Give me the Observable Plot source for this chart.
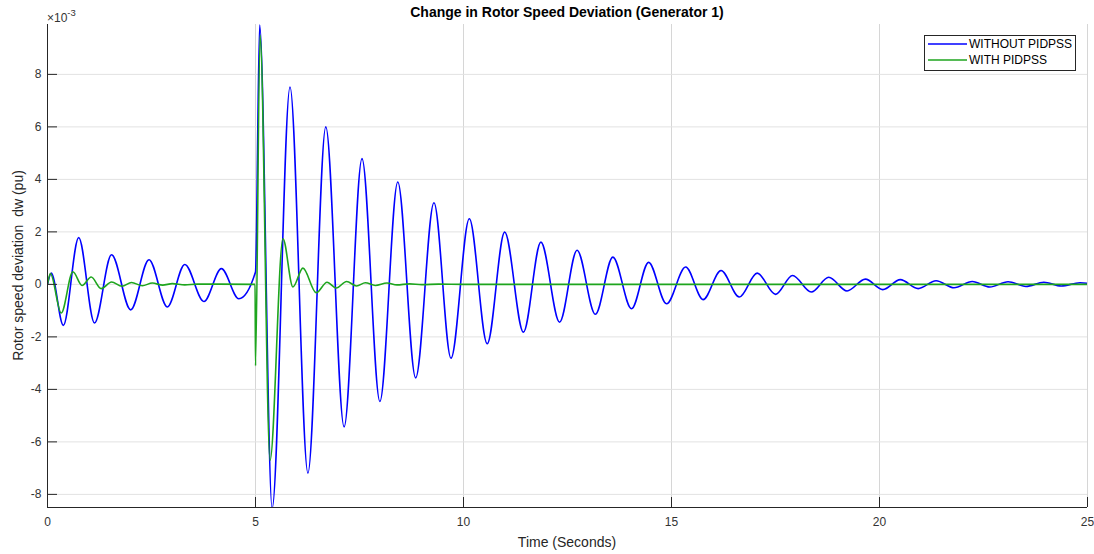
<!DOCTYPE html>
<html><head><meta charset="utf-8">
<script src="https://cdn.jsdelivr.net/npm/d3@7"></script>
<script src="https://cdn.jsdelivr.net/npm/@observablehq/plot@0.6"></script>
<style>body{margin:0;background:#fff} svg{display:block}</style>
</head><body><div id="chart"></div>
<script>
// Values (dw in units of 10^-3 pu)
const timeWithout = [0, 0.09, 0.38, 0.75, 1.13, 1.54, 2.0, 2.44, 2.88, 3.30, 3.76, 4.18, 4.60, 5.0, 5.10, 5.40, 5.83, 6.26, 6.69, 7.13, 7.56, 7.99, 8.42, 8.85, 9.29, 9.70, 10.14, 10.57, 10.99, 11.44, 11.86, 12.31, 12.73, 13.17, 13.59, 14.04, 14.45, 14.88, 15.34, 15.76, 16.19, 16.63, 17.06, 17.50, 17.91, 18.36, 18.78, 19.22, 19.66, 20.08, 20.50, 20.93, 21.36, 21.79, 22.23, 22.65, 23.09, 23.52, 23.95, 24.37, 24.82, 25.0];
const dwWithout = [0, 0.43, -1.56, 1.78, -1.47, 1.13, -0.97, 0.94, -0.86, 0.76, -0.65, 0.60, -0.55, 0.47, 9.88, -8.53, 7.52, -7.19, 6.0, -5.43, 4.79, -4.46, 3.90, -3.56, 3.11, -2.81, 2.50, -2.26, 1.99, -1.82, 1.61, -1.44, 1.30, -1.14, 1.04, -0.93, 0.84, -0.74, 0.66, -0.58, 0.53, -0.48, 0.43, -0.38, 0.34, -0.29, 0.27, -0.25, 0.20, -0.20, 0.18, -0.16, 0.14, -0.13, 0.11, -0.10, 0.10, -0.08, 0.08, -0.06, 0.06, 0.04];
const timeWith = [0, 0.07, 0.33, 0.61, 0.83, 1.05, 1.29, 1.54, 1.79, 2.02, 2.28, 2.52, 2.77, 3.0, 3.3, 3.6, 4.99, 5.0, 5.11, 5.35, 5.66, 5.90, 6.14, 6.46, 6.72, 6.94, 7.19, 7.43, 7.64, 7.88, 8.16, 8.4, 8.7, 9.0, 9.4, 10, 25];
const dwWith = [0, 0.41, -1.09, 0.48, -0.04, 0.28, -0.16, 0.09, -0.07, 0.07, -0.05, 0.05, -0.03, 0.03, -0.02, 0.01, 0, -3.1, 9.5, -6.7, 1.74, -0.10, 0.62, -0.32, 0.08, -0.14, 0.11, -0.06, 0.06, -0.04, 0.05, -0.02, 0.02, -0.01, 0.01, 0, 0];

const seriesNames = ["WITHOUT PIDPSS", "WITH PIDPSS"];
const seriesColors = ["#0000ff", "#1ea51e"];
const xTicks = [0, 5, 10, 15, 20, 25];
const yTicks = [-8, -6, -4, -2, 0, 2, 4, 6, 8];
const xDomain = [0, 25];
const yDomain = [-8.5, 9.9];
const titleText = "Change in Rotor Speed Deviation (Generator 1)";
const xLabel = "Time (Seconds)";
const yLabel = "Rotor speed deviation\u00a0 dw (pu)";

const rows = [
  ...timeWithout.map((t, i) => ({t, v: dwWithout[i], s: seriesNames[0]})),
  ...timeWith.map((t, i) => ({t, v: dwWith[i], s: seriesNames[1]}))
];

const font = "'Liberation Sans', Arial, Helvetica, sans-serif";
const W = 1094, H = 554, mL = 47, mR = 7, mT = 24, mB = 47;

const chart = Plot.plot({
  width: W, height: H, marginLeft: mL, marginRight: mR, marginTop: mT, marginBottom: mB,
  style: {fontFamily: font, fontSize: "12px", color: "#262626", background: "#fff", overflow: "visible"},
  x: {domain: xDomain},
  y: {domain: yDomain},
  color: {domain: seriesNames, range: seriesColors},
  marks: [
    Plot.gridX({ticks: xTicks, stroke: "#d6d6d6", strokeOpacity: 1}),
    Plot.gridY({ticks: yTicks, stroke: "#e2e2e2", strokeOpacity: 1}),
    Plot.line(rows, {x: "t", y: "v", z: "s", stroke: "s", strokeWidth: 1.6, curve: "monotone-x", clip: true}),
    Plot.axisX({ticks: xTicks, tickSize: 10, dy: -10, tickFormat: () => "", label: null, stroke: "#262626"}),
    Plot.axisX({ticks: xTicks, tickSize: 0, tickPadding: 10, tickFormat: d => String(d), label: null, fill: "#333"}),
    Plot.axisY({ticks: yTicks, tickSize: 10, dx: 10, tickFormat: () => "", label: null, stroke: "#262626"}),
    Plot.axisY({ticks: yTicks, tickSize: 0, tickPadding: 6, tickFormat: d => String(d), label: null, fill: "#333"}),
    Plot.ruleX([xDomain[0]], {stroke: "#262626"}),
    Plot.ruleY([yDomain[0]], {stroke: "#262626"})
  ]
});
document.getElementById("chart").appendChild(chart);

const svg = d3.select(chart);
const cx = mL + (W - mL - mR) / 2;
svg.append("text").attr("x", cx).attr("y", 17).attr("text-anchor", "middle")
  .attr("font-family", font).attr("font-size", 14).attr("font-weight", "bold").attr("fill", "#000").text(titleText);
svg.append("text").attr("x", cx).attr("y", 547).attr("text-anchor", "middle")
  .attr("font-family", font).attr("font-size", 14).attr("fill", "#262626").text(xLabel);
svg.append("text").attr("transform", `translate(23,${mT + (H - mT - mB) / 2}) rotate(-90)`).attr("text-anchor", "middle")
  .attr("font-family", font).attr("font-size", 14).attr("fill", "#262626").text(yLabel);
const ex = svg.append("text").attr("x", mL).attr("y", 22).attr("text-anchor", "start").attr("font-family", font).attr("fill", "#333");
ex.append("tspan").attr("font-size", 12).text("\u00d710");
ex.append("tspan").attr("font-size", 9.5).attr("dy", -6).text("-3");

// legend
const lg = svg.append("g");
lg.append("rect").attr("x", 924.5).attr("y", 35.5).attr("width", 151).attr("height", 35)
  .attr("fill", "#fff").attr("stroke", "#262626").attr("stroke-width", 1);
seriesNames.forEach((name, i) => {
  const y = 44 + i * 16;
  lg.append("line").attr("x1", 928).attr("x2", 967).attr("y1", y).attr("y2", y)
    .attr("stroke", seriesColors[i]).attr("stroke-width", 1.5);
  lg.append("text").attr("x", 969).attr("y", y).attr("dy", "0.35em").attr("text-anchor", "start")
    .attr("font-family", font).attr("font-size", 12).attr("fill", "#000").text(name);
});
</script></body></html>
